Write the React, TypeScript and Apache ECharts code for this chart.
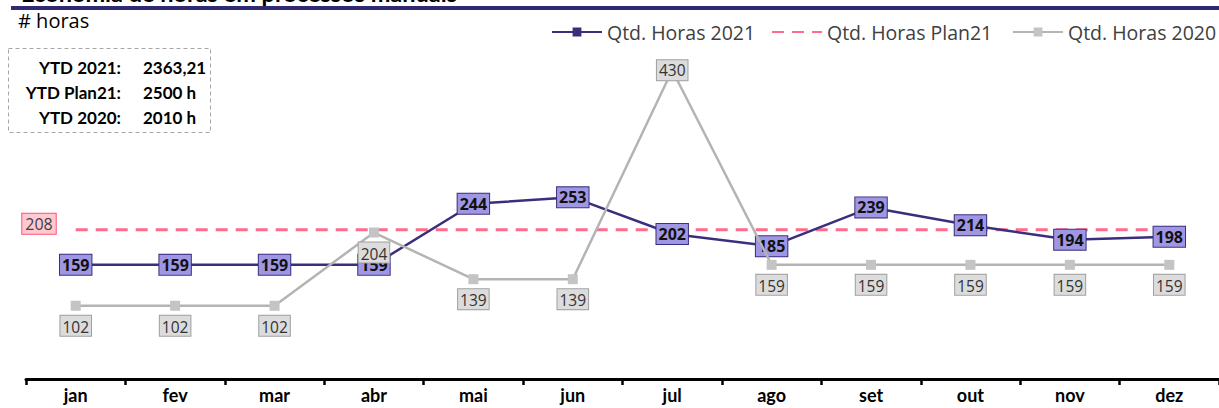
import React, { useEffect, useRef } from "react";
import * as echarts from "echarts";

const months = ["jan", "fev", "mar", "abr", "mai", "jun", "jul", "ago", "set", "out", "nov", "dez"];
const horas2021 = [159, 159, 159, 159, 244, 253, 202, 185, 239, 214, 194, 198];
const plan21 = [208, 208, 208, 208, 208, 208, 208, 208, 208, 208, 208, 208];
const horas2020 = [102, 102, 102, 204, 139, 139, 430, 159, 159, 159, 159, 159];
const seriesNames = ["Qtd. Horas 2021", "Qtd. Horas Plan21", "Qtd. Horas 2020"];
const ytdLabels = ["YTD 2021:", "YTD Plan21:", "YTD 2020:"];
const ytdValues = ["2363,21", "2500 h", "2010 h"];
const titleText = "Economia de horas em processos manuais";
const unitText = "# horas";

const NAVY = "#3a2f7c";
const PINK = "#ff6b8c";
const GRAY = "#b4b4b4";
const LEGEND_FONT = "Open Sans";
const LABEL_FONT = "Open Sans";
const CAL = "Lato";

export default function App() {
  const ref = useRef<HTMLDivElement>(null);
  useEffect(() => {
    if (!ref.current) return;
    const chart = echarts.init(ref.current, null, { renderer: "svg" });
    const legendBase = {
      top: 22,
      padding: 0,
      itemWidth: 50,
      itemHeight: 11,
      itemGap: 5,
      textStyle: { fontFamily: LEGEND_FONT, fontSize: 19.5, color: "#404040" },
    };
    chart.setOption({
      animation: false,
      backgroundColor: "#ffffff",
      grid: { left: 26, right: -7, top: 20, bottom: 29, containLabel: false },
      legend: [
        { ...legendBase, left: 551, data: [seriesNames[0]] },
        { ...legendBase, left: 771, data: [{ name: seriesNames[1], itemStyle: { opacity: 0 } }] },
        { ...legendBase, left: 1012, data: [seriesNames[2]] },
      ],
      xAxis: {
        type: "category",
        data: months,
        boundaryGap: true,
        axisLine: { show: true, lineStyle: { color: "#000", width: 3 } },
        axisTick: { show: true, length: 6, inside: false, lineStyle: { color: "#000", width: 2.5 } },
        axisLabel: { fontFamily: CAL, fontWeight: "bold", fontSize: 18, color: "#000", margin: 7 },
        splitLine: { show: false },
      },
      yAxis: {
        type: "value",
        min: 0,
        max: 500,
        show: false,
        splitLine: { show: false },
      },
      graphic: [
        {
          type: "text",
          left: 21,
          top: -19,
          style: { text: titleText, fontFamily: CAL, fontWeight: "bold", fontSize: 23.5, fill: "#000" },
          z: 1,
        },
        {
          type: "rect",
          shape: { x: 11, y: 6, width: 1210, height: 4 },
          style: { fill: "#2f2a72" },
          z: 2,
        },
        {
          type: "text",
          x: 18,
          y: 10,
          style: { text: unitText, fontFamily: "Open Sans", fontSize: 20, fill: "#000" },
        },
        {
          type: "rect",
          shape: { x: 8.5, y: 48.5, width: 202, height: 84 },
          style: { fill: "none", stroke: "#a6a6a6", lineWidth: 1, lineDash: [4, 3] },
        },
        ...ytdLabels.map((t, i) => ({
          type: "text",
          x: 121,
          y: 67 + i * 25,
          style: {
            text: t,
            fontFamily: CAL,
            fontWeight: "bold",
            fontSize: 17,
            fill: "#000",
            align: "right",
            verticalAlign: "middle",
          },
        })),
        ...ytdValues.map((t, i) => ({
          type: "text",
          x: 143,
          y: 67 + i * 25,
          style: {
            text: t,
            fontFamily: CAL,
            fontWeight: "bold",
            fontSize: 17,
            fill: "#000",
            align: "left",
            verticalAlign: "middle",
          },
        })),
      ],
      series: [
        {
          name: seriesNames[1],
          type: "line",
          data: plan21.map((v, i) =>
            i === 0
              ? {
                  value: v,
                  label: {
                    show: true,
                    position: "left",
                    distance: 20,
                    offset: [0, -6],
                    formatter: "{c}",
                    fontFamily: LABEL_FONT,
                    fontSize: 16,
                    color: "#404040",
                    backgroundColor: "#ffc9d2",
                    borderColor: "#ff4f72",
                    borderWidth: 1,
                    padding: [3, 3, 1, 3],
                  },
                }
              : v
          ),
          symbol: "circle",
          symbolSize: 0,
          lineStyle: { color: PINK, width: 3, type: [12, 8] },
          itemStyle: { color: PINK },
          z: 2,
        },
        {
          name: seriesNames[0],
          type: "line",
          data: horas2021,
          symbol: "rect",
          symbolSize: 9,
          lineStyle: { color: NAVY, width: 2.5 },
          itemStyle: { color: NAVY },
          label: {
            show: true,
            position: "inside",
            formatter: "{c}",
            fontFamily: LABEL_FONT,
            fontWeight: "bold",
            fontSize: 16,
            color: "#111",
            backgroundColor: "#9f97e4",
            borderColor: NAVY,
            borderWidth: 1,
            padding: [3, 2, 1, 2],
          },
          z: 3,
        },
        {
          name: seriesNames[2],
          type: "line",
          data: horas2020.map((v) =>
            v === 430 ? { value: v, label: { position: "inside" } } : v
          ),
          symbol: "rect",
          symbolSize: 10,
          lineStyle: { color: GRAY, width: 2.5 },
          itemStyle: { color: "#c4c4c4" },
          label: {
            show: true,
            position: "bottom",
            distance: 5,
            formatter: "{c}",
            fontFamily: LABEL_FONT,
            fontSize: 15.5,
            color: "#333",
            backgroundColor: "#dcdcdc",
            borderColor: "#a0a0a0",
            borderWidth: 1,
            padding: [3, 2, 1, 2],
          },
          z: 4,
        },
      ],
    });
    return () => chart.dispose();
  }, []);
  return (
    <div
      ref={ref}
      style={{ position: "fixed", left: 0, top: 0, width: 1219, height: 408, background: "#fff" }}
    />
  );
}
